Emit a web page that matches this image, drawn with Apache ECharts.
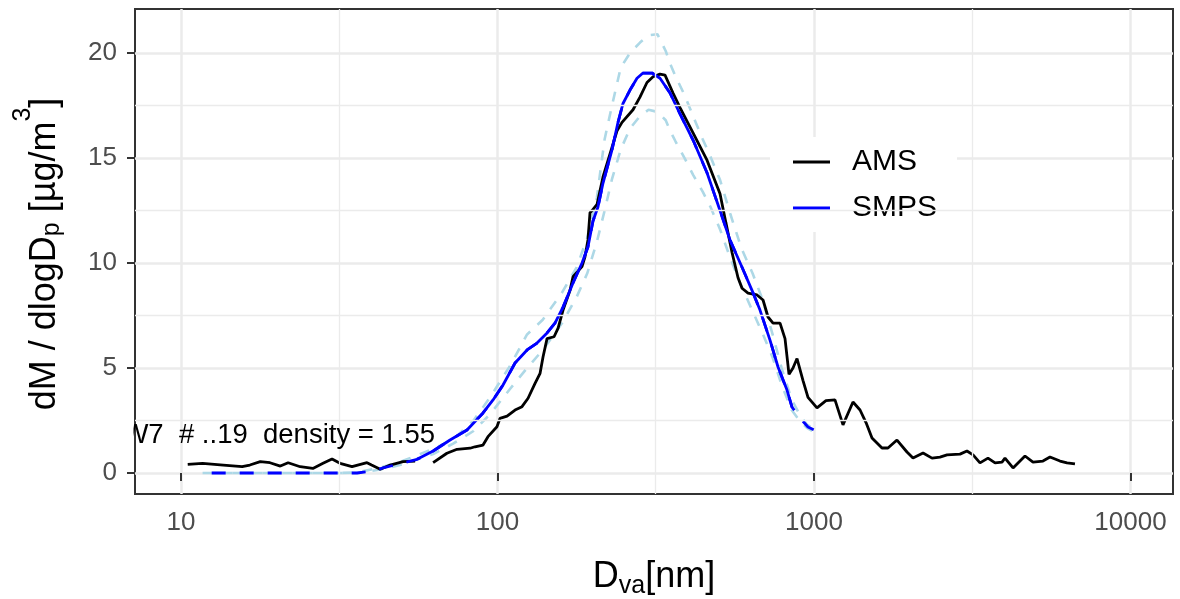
<!DOCTYPE html>
<html>
<head>
<meta charset="utf-8">
<script src="https://cdn.jsdelivr.net/npm/echarts@6/dist/echarts.min.js"></script>
<style>
html, body { margin: 0; padding: 0; background: #fff; }
#chart { width: 1180px; height: 599px; }
</style>
</head>
<body>
<div id="chart"></div>
<script>
// axis ranges and ticks
var xMin = 7.155, xMax = 13625;
var yMin = -1.0, yMax = 22.1;
var xTicks = [10, 100, 1000, 10000];
var yTicks = [0, 5, 10, 15, 20];
var xMinorGrid = [31.62, 316.2, 3162];
var yMinorGrid = [2.5, 7.5, 12.5, 17.5];

// AMS size distribution (null = gap)
var amsX = [10.5, 11.7, 13.6, 15.6, 16.5, 17.8, 19.1, 20.6, 21.8, 23.8, 26.1, 28.1, 30.0, 31.8, 34.7, 38.7, 40.0, 42.6, 45.8, 50.3,
    54.9, 57.5, 62.6, 69.2, 74.5, 81.9, 84.9, 90.0, 93.3, 99.6, 101.8, 107.2, 113.6, 119.5, 124.9, 131.4, 136.3, 139.3, 143.4, 150.9,
    155.4, 161.1, 169.5, 173.2, 184.9, 189.0, 193.1, 196.0, 198.9, 206.3, 215.4, 226.7, 238.6, 247.4, 268.0, 281.9, 296.7, 310.0, 326.2, 338.3,
    358.6, 377.3, 414.8, 459.2, 504.7, 527.2, 550.8, 575.4, 592.4, 618.8, 660.7, 690.2, 715.8, 742.3, 781.1, 809.9, 833.8, 858.4, 883.8, 923.3,
    957.3, 1022, 1091, 1165, 1235, 1328, 1398, 1460, 1525, 1640, 1713, 1829, 1967, 2055, 2211, 2360, 2501, 2632, 2893, 3043,
    3181, 3346, 3546, 3733, 3927, 4013, 4255, 4642, 4920, 5290, 5568, 5988, 6302, 6677];
var amsY = [0.41, 0.46, 0.38, 0.30, 0.38, 0.54, 0.49, 0.33, 0.49, 0.30, 0.22, 0.46, 0.67, 0.46, 0.30, 0.49, 0.38, 0.18, 0.38, 0.54,
    0.57, null, 0.49, 0.94, 1.13, 1.18, 1.25, 1.33, 1.73, 2.2, 2.6, 2.71, 3.0, 3.16, 3.56, 4.27, 4.75, 5.54, 6.4, 6.49,
    6.9, 7.76, 8.7, 9.35, 9.83, 10.3, 11.1, 12.4, 12.5, 12.8, 14.1, 15.2, 16.3, 16.7, 17.3, 17.9, 18.6, 18.87, 19.0, 18.95,
    18.1, 17.4, 16.2, 14.9, 13.3, 11.9, 10.5, 9.3, 8.8, 8.57, 8.48, 8.24, 7.43, 7.14, 7.14, 6.4, 4.7, 5.0, 5.45, 4.4,
    3.6, 3.1, 3.45, 3.48, 2.29, 3.38, 3.0, 2.4, 1.67, 1.19, 1.19, 1.57, 1.0, 0.71, 0.95, 0.71, 0.76, 0.86, 0.9, 1.05,
    0.86, 0.48, 0.71, 0.48, 0.52, 0.71, 0.24, 0.81, 0.52, 0.57, 0.76, 0.57, 0.48, 0.43];

// SMPS converted with density 1.55
var smpsX = [55.7, 62.6, 70.8, 80.1, 90.0, 96.8, 104.1, 113.6, 124.0, 133.3, 143.4, 151.9, 161.1, 173.2, 184.9, 193.1, 200.3, 207.7, 215.4, 230.1,
    240.3, 249.2, 262.2, 275.9, 288.2, 307.7, 326.2, 350.8, 377.3, 414.8, 459.2, 504.7, 542.8, 592.4, 637.0, 675.1, 726.1, 769.8, 821.7, 852.1];
var smpsY = [0.65, 1.05, 1.57, 2.05, 2.86, 3.48, 4.19, 5.24, 5.86, 6.19, 6.67, 7.14, 7.9, 9.05, 10.0, 10.76, 12.0, 12.67, 13.8, 15.4,
    16.7, 17.6, 18.24, 18.8, 19.05, 19.05, 18.8, 18.1, 17.1, 15.86, 14.3, 12.5, 11.1, 9.8, 8.7, 7.76, 6.33, 5.05, 3.95, 3.14];
// extension of the SMPS curve outside its measured range (dashed)
var fitLowX = [12.5, 20, 30, 36, 40.4, 43.5, 50.3];
var fitLowY = [0, 0, 0, 0, 0.1, 0.24, 0.48];
var fitHighX = [903.2, 957.3, 1000];
var fitHighY = [2.62, 2.19, 2.05];

// density range band
var bandX = [11.7, 20, 30, 36, 43.5, 50.3, 62.6, 72.4, 84, 94.7, 109.5, 124, 139, 160, 178, 192, 206, 218, 230, 245,
    262, 282, 300, 320, 340, 351, 365, 390, 415, 445, 470, 505, 545, 590, 640, 690, 740, 790, 850, 900, 950, 1000];
var bandUpper = [0, 0, 0, 0.02, 0.3, 0.58, 1.15, 1.6, 2.5, 3.6, 5.1, 6.6, 7.3, 8.6, 9.8, 11.2, 13.1, 15.9, 17.5, 19.3,
    20.0, 20.5, 20.85, 20.9, 20.1, 19.5, 18.9, 18.0, 17.0, 15.9, 15.1, 13.95, 12.3, 10.7, 9.5, 8.2, 6.6, 5.0, 3.5, 2.8, 2.3, 2.1];
var bandLower = [0, 0, 0, 0, 0.18, 0.42, 0.9, 1.4, 2.0, 2.8, 4.0, 5.0, 5.86, 7.14, 8.4, 9.5, 11.0, 12.5, 14.0, 15.4,
    16.4, 17.0, 17.3, 17.2, 16.8, 16.3, 15.8, 15.0, 14.2, 13.4, 12.7, 11.6, 10.2, 8.9, 7.7, 6.6, 5.5, 4.2, 3.0, 2.5, 2.15, 1.95];

var annotation = 'W7  # ..19  density = 1.55';

var FONT = '"Liberation Sans", Arial, sans-serif';

function pairs(xs, ys) {
    return xs.map(function (x, i) { return [x, ys[i]]; });
}

var chart = echarts.init(document.getElementById('chart'), null, {renderer: 'canvas'});

var minorLines = xMinorGrid.map(function (v) { return {xAxis: v}; })
    .concat(yMinorGrid.map(function (v) { return {yAxis: v}; }));

var option = {
    animation: false,
    backgroundColor: '#fff',
    grid: {
        left: 135, right: 7, top: 9, bottom: 105,
        show: true, borderColor: '#333', borderWidth: 2, backgroundColor: 'transparent'
    },
    legend: {
        data: ['AMS', 'SMPS'],
        orient: 'vertical',
        left: 770, top: 137,
        padding: [10, 20, 9, 23],
        backgroundColor: '#fff',
        icon: 'rect',
        itemWidth: 37, itemHeight: 3,
        itemGap: 16,
        textStyle: {fontSize: 30, fontFamily: FONT, color: '#000', lineHeight: 28, padding: [0, 0, 0, 17]}
    },
    xAxis: {
        type: 'log', logBase: 10, min: xMin, max: xMax,
        axisLine: {show: false},
        axisTick: {show: true, length: 8, lineStyle: {color: '#333', width: 2}, customValues: xTicks},
        axisLabel: {
            customValues: xTicks, color: '#4D4D4D', fontSize: 26, fontFamily: FONT, margin: 16,
            formatter: function (v) { return String(Math.round(v)); }
        },
        splitLine: {show: true, lineStyle: {color: '#EBEBEB', width: 2.5}}
    },
    yAxis: {
        type: 'value', min: yMin, max: yMax,
        axisLine: {show: false},
        axisTick: {show: true, length: 8, lineStyle: {color: '#333', width: 2}, customValues: yTicks},
        axisLabel: {customValues: yTicks, color: '#4D4D4D', fontSize: 26, fontFamily: FONT, margin: 18},
        splitLine: {show: true, lineStyle: {color: '#EBEBEB', width: 2.5}}
    },
    series: [
        {
            name: 'grid', type: 'line', data: [], silent: true, z: 1,
            markLine: {
                silent: true, symbol: 'none', label: {show: false}, animation: false,
                lineStyle: {color: '#EBEBEB', width: 1.3, type: 'solid'},
                emphasis: {disabled: true},
                data: minorLines
            }
        },
        {
            name: 'upper', type: 'line', data: pairs(bandX, bandUpper), showSymbol: false, symbol: 'none',
            lineStyle: {color: '#ADD8E6', width: 2.6, type: [10, 10]}, z: 2
        },
        {
            name: 'lower', type: 'line', data: pairs(bandX, bandLower), showSymbol: false, symbol: 'none',
            lineStyle: {color: '#ADD8E6', width: 2.6, type: [10, 10], dashOffset: 10}, z: 2
        },
        {
            name: 'AMS', type: 'line', data: pairs(amsX, amsY), showSymbol: false, symbol: 'none',
            connectNulls: false,
            lineStyle: {color: '#000', width: 2.8}, itemStyle: {color: '#000'}, z: 3
        },
        {
            name: 'fit', type: 'line',
            data: pairs(fitLowX, fitLowY).concat(pairs(smpsX, smpsY), pairs(fitHighX, fitHighY)),
            showSymbol: false, symbol: 'none',
            lineStyle: {color: '#0000FF', width: 2.8, type: [14, 14]}, z: 4
        },
        {
            name: 'SMPS', type: 'line', data: pairs(smpsX, smpsY), showSymbol: false, symbol: 'none',
            lineStyle: {color: '#0000FF', width: 2.8}, itemStyle: {color: '#0000FF'}, z: 4
        }
    ],
    graphic: [
        {
            type: 'text', x: 435, y: 435, z: 10,
            style: {text: annotation, fontSize: 27.5, fontFamily: FONT, fill: '#000', align: 'right', verticalAlign: 'middle'}
        },
        {
            type: 'rect', z: 11, shape: {x: 60, y: 416, width: 73.5, height: 38}, style: {fill: '#fff'}
        },
        {
            type: 'text', x: 45, y: 254, rotation: Math.PI / 2, z: 10,
            style: {
                text: '{b|dM / dlogD}{s|p}{b| [µg/m}{p|3}{b|]}',
                align: 'center', verticalAlign: 'middle', fill: '#000',
                rich: {
                    b: {fontSize: 36, fontFamily: FONT, verticalAlign: 'middle', fill: '#000'},
                    s: {fontSize: 25, fontFamily: FONT, verticalAlign: 'middle', padding: [14, 0, 0, 0], fill: '#000'},
                    p: {fontSize: 25, fontFamily: FONT, verticalAlign: 'middle', padding: [0, 0, 44, 0], fill: '#000'}
                }
            }
        },
        {
            type: 'text', x: 654, y: 577, z: 10,
            style: {
                text: '{b|D}{s|va}{b|[nm]}',
                align: 'center', verticalAlign: 'middle', fill: '#000',
                rich: {
                    b: {fontSize: 36, fontFamily: FONT, verticalAlign: 'middle', fill: '#000'},
                    s: {fontSize: 25, fontFamily: FONT, verticalAlign: 'middle', padding: [18, 0, 0, 0], fill: '#000'}
                }
            }
        }
    ]
};

chart.setOption(option);
</script>
</body>
</html>
